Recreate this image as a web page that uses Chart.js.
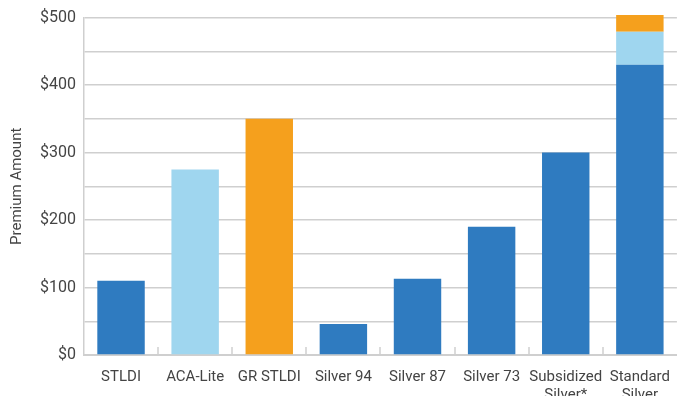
<!DOCTYPE html>
<html>
<head>
<meta charset="utf-8">
<script src="https://cdn.jsdelivr.net/npm/chart.js@4"></script>
<style>
  html, body { margin: 0; padding: 0; background: #fff; overflow: hidden; }
  #wrap { width: 683px; height: 396px; overflow: hidden; }
</style>
</head>
<body>
<div id="wrap"><canvas id="chart" width="683" height="417"></canvas></div>
<script>
const CATEGORIES = ["STLDI", "ACA-Lite", "GR STLDI", "Silver 94", "Silver 87", "Silver 73", ["Subsidized", "Silver*"], ["Standard", "Silver"]];

// three stacked pieces; null where a bar has no piece of that colour
const DARK_BLUE_VALUES = [110, null, null, 46, 113, 190, 300, 430];
const LIGHT_BLUE_VALUES = [null, 275, null, null, null, null, null, 49];
const ORANGE_VALUES = [null, null, 350, null, null, null, null, 25];

const Y_TICKS = [0, 100, 200, 300, 400, 500];

const FONT = "Roboto, 'Open Sans', sans-serif";
const TEXT = "#444";
const GRID = "#cfcfcf";

const ds = (data, color) => ({
  data,
  backgroundColor: color,
  borderWidth: 0,
  barPercentage: 0.64,
  categoryPercentage: 1,
  clip: false,
});

// short upward tick marks between categories, sitting on the x axis
const boundaryTicks = {
  id: "boundaryTicks",
  afterDatasetsDraw(chart) {
    const x = chart.scales.x;
    const ctx = chart.ctx;
    const bottom = chart.chartArea.bottom;
    ctx.save();
    ctx.strokeStyle = GRID;
    ctx.lineWidth = 1.5;
    for (let i = 1; i < CATEGORIES.length; i++) {
      const px = Math.round((x.getPixelForValue(i - 1) + x.getPixelForValue(i)) / 2);
      ctx.beginPath();
      ctx.moveTo(px, bottom - 8);
      ctx.lineTo(px, bottom);
      ctx.stroke();
    }
    ctx.restore();
  },
};

new Chart(document.getElementById("chart"), {
  type: "bar",
  data: {
    labels: CATEGORIES,
    datasets: [
      ds(DARK_BLUE_VALUES, "#2f7bc0"),
      ds(LIGHT_BLUE_VALUES, "#9fd6ef"),
      ds(ORANGE_VALUES, "#f5a01d"),
    ],
  },
  plugins: [boundaryTicks],
  options: {
    responsive: false,
    animation: false,
    layout: { padding: { top: 14, right: 0, left: 8, bottom: 0 } },
    plugins: { legend: { display: false }, tooltip: { enabled: false } },
    scales: {
      x: {
        stacked: true,
        grid: { display: false, drawTicks: false },
        border: { color: GRID, width: 2 },
        ticks: { color: TEXT, font: { family: FONT, size: 15 }, padding: 13, maxRotation: 0, autoSkip: false },
      },
      y: {
        stacked: true,
        min: 0,
        max: 500,
        grid: { color: GRID, lineWidth: 1.5, drawTicks: false },
        border: { color: GRID, width: 1.5 },
        ticks: {
          stepSize: 50,
          padding: 8,
          color: TEXT,
          font: { family: FONT, size: 16 },
          callback: (v) => (Y_TICKS.includes(v) ? "$" + v : ""),
        },
        title: { display: true, text: "Premium Amount", color: TEXT, font: { family: FONT, size: 15 }, padding: { top: 0, bottom: 6 } },
      },
    },
  },
});
</script>
</body>
</html>
